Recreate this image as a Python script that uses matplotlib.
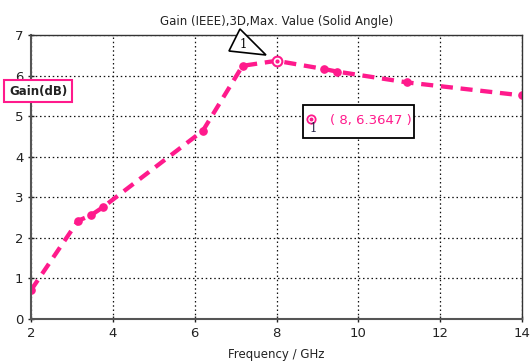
import numpy as np
import matplotlib.pyplot as plt
from matplotlib.patches import Polygon, Rectangle

# Gain (IEEE) sweep, max value over solid angle
freq_ghz = [2.0, 3.15, 3.47, 3.75, 6.2, 7.17, 8.0, 9.17, 9.47, 11.2, 14.0]
gain_db = [0.71, 2.42, 2.56, 2.75, 4.64, 6.24, 6.3647, 6.16, 6.10, 5.83, 5.51]

marker_x = 8.0
marker_y = 6.3647

x_ticks = [2, 4, 6, 8, 10, 12, 14]
y_ticks = [0, 1, 2, 3, 4, 5, 6, 7]

PINK = '#ff1a8c'
W, H = 532, 364

fig = plt.figure(figsize=(W / 100, H / 100), dpi=100)
ax = fig.add_axes([31 / W, (H - 319) / H, (522 - 31) / W, (319 - 35) / H])

ax.plot(freq_ghz, gain_db, color=PINK, linestyle=(0, (2.8, 1.8)), linewidth=3.1,
        marker='o', markersize=5.2, markerfacecolor=PINK, markeredgecolor=PINK,
        markevery=[i for i in range(len(freq_ghz)) if freq_ghz[i] != marker_x])
# marker point drawn as an open ring with a dot
ax.plot([marker_x], [marker_y], marker='o', markersize=7, markerfacecolor='white',
        markeredgecolor=PINK, markeredgewidth=1.5, zorder=5)
ax.plot([marker_x], [marker_y], marker='o', markersize=2, color=PINK, zorder=6)

ax.set_xlim(2, 14)
ax.set_ylim(0, 7)
ax.set_xticks(x_ticks)
ax.set_yticks(y_ticks)
ax.tick_params(labelsize=9.5, colors='#222222', length=4, width=1, direction='inout')
ax.grid(True, color='#111111', linestyle=(0, (1.2, 2.2)), linewidth=0.9)
for side in ['left', 'bottom']:
    ax.spines[side].set_color('#555555')
    ax.spines[side].set_linewidth(1.5)
for side in ['top', 'right']:
    ax.spines[side].set_color('#333333')
    ax.spines[side].set_linewidth(1.0)

ax.set_title('Gain (IEEE),3D,Max. Value (Solid Angle)', fontsize=8.5, color='#222222', pad=7)
ax.set_xlabel('Frequency / GHz', fontsize=8.5, color='#222222', labelpad=6)


def px(x, y):
    # figure pixel -> data coordinates
    return (x - 31) / 40.92 + 2, (319 - y) / 40.57


# triangle marker label
tri = Polygon([px(240, 29), px(229, 51), px(266, 55)], closed=True, facecolor='white',
              edgecolor='black', linewidth=1.2, clip_on=False, zorder=7)
ax.add_patch(tri)
tx, ty = px(243, 45)
ax.text(tx, ty, '1', fontsize=8.5, ha='center', va='center', family='DejaVu Serif', zorder=8,
        clip_on=False)

# readout box
x0, y1 = px(303, 105)
x1, y0 = px(414, 138)
ax.add_patch(Rectangle((x0, y0), x1 - x0, y1 - y0, facecolor='white', edgecolor='black',
                       linewidth=1.3, zorder=7))
mx, my = px(311, 119)
ax.plot([mx], [my], marker='o', markersize=6, markerfacecolor='white', markeredgecolor=PINK,
        markeredgewidth=1.3, zorder=8)
ax.plot([mx], [my], marker='o', markersize=1.8, color=PINK, zorder=9)
nx, ny = px(313, 129)
ax.text(nx, ny, '1', fontsize=8.5, ha='center', va='center', family='DejaVu Serif',
        color='#222244', zorder=9)
lx, ly = px(330, 121)
ax.text(lx, ly, f'( {marker_x:g}, {marker_y} )', fontsize=9.5, color=PINK, ha='left',
        va='center', zorder=9)

# y axis label tag
fig.text(38 / W, 1 - 91 / H, 'Gain(dB)', fontsize=8.5, fontweight='bold', color='#222222',
         ha='center', va='center',
         bbox=dict(boxstyle='square,pad=0.4', facecolor='white', edgecolor=PINK, linewidth=1.5))

fig.savefig('out.png', dpi=100)
